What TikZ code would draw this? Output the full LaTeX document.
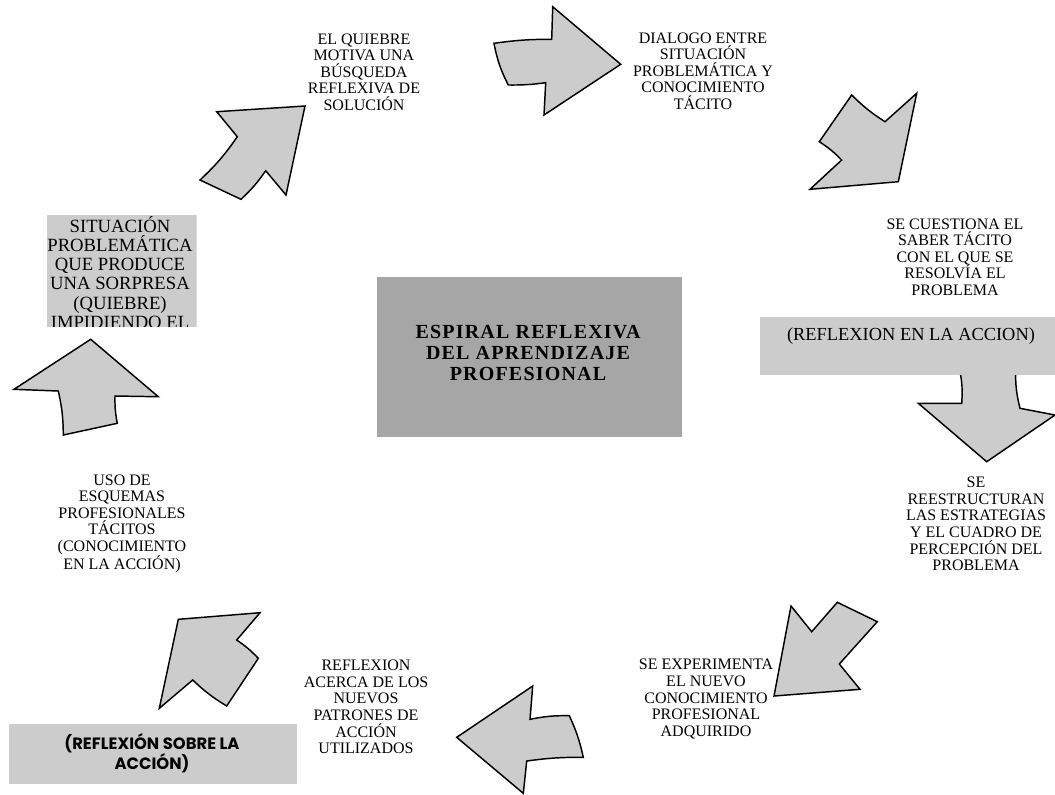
\documentclass[tikz,border=0pt]{standalone}
\usepackage{fontspec}
\setmainfont{Liberation Serif}
\newfontfamily\titlefont[LetterSpace=6]{Liberation Serif}
\newfontfamily\popfont{Poppins}
\definecolor{lgray}{HTML}{CCCCCC}
\definecolor{dgray}{HTML}{A6A6A6}
\begin{document}
\begin{tikzpicture}[x=0.75pt,y=-0.75pt,
  blockarrow/.style={fill=lgray, draw=black, line width=1.1pt, line join=miter},
  lbl/.style={align=center, inner sep=0pt, font=\fontsize{12}{12.4}\selectfont},
  graybox/.style={fill=lgray, draw=none},
]
\useasboundingbox (0,0) rectangle (1055,794);

% ---- arrows ----
% A1 up-right
\draw[blockarrow] (305,106) -- (286,195) -- (265.7,170.7) to[bend left=6] (241,199.3)
  -- (200,180) to[bend right=6] (237.3,136.7) -- (216.7,111.7) -- cycle;
% A2 right
\draw[blockarrow] (494,43.3) to[bend left=4] (551.7,39.3) -- (552.7,6.7) -- (620.7,64.3)
  -- (544,115) -- (545.7,82.7) to[bend left=4] (508.3,85) to[bend left=8] cycle;
% A3 down-right
\draw[blockarrow] (851.7,95) to[bend right=6] (885,121.7) -- (916.7,93.3) -- (898.3,181.7)
  -- (810,189.3) -- (841.7,160) to[bend right=6] (819.3,141.7) -- cycle;
% A4 down
\draw[blockarrow] (957,360) to[bend left=10] (961.7,403.3) -- (918.3,403.3) -- (986.7,461.7)
  -- (1055,415) -- (1020,408.3) to[bend left=10] (1016.7,360);
% A5 down-left
\draw[blockarrow] (791,606) -- (811.7,631.7) -- (837.3,602.3) -- (877.3,621.7)
  -- (839.3,664) -- (860,689.3) -- (774,696) -- cycle;
% A6 left
\draw[blockarrow] (456.7,737.3) -- (532.7,686) -- (530,719.3) to[bend left=6] (569.3,715.7)
  to[bend left=6] (583.3,757.3) to[bend right=4] (526.7,761) -- (523.3,793.3) -- cycle;
% A7 up-left
\draw[blockarrow] (178.3,619.3) -- (260,612.7) -- (236.7,640) to[bend left=6] (258.3,658.3)
  -- (226.7,706) to[bend left=6] (192.7,680) -- (159.3,708.3) -- cycle;
% A8 up
\draw[blockarrow] (90.7,339.3) -- (158.3,396.7) -- (115,396) to[bend right=6] (117.3,423.3)
  -- (63.3,435) to[bend right=6] (58.3,391) -- (14,389.3) -- cycle;

% ---- boxes ----
\fill[graybox] (760,316.7) rectangle (1055,375);
\node[inner sep=0pt, font=\fontsize{13.8}{14}\selectfont] (rea) at (911,336) {(REFLEXION EN LA ACCION)};

\fill[graybox] (9.3,724) rectangle (297.3,784);
\node[align=center, inner sep=0pt, font=\popfont\bfseries\fontsize{12.3}{15}\selectfont] (rsa) at (152,753) {(REFLEXIÓN SOBRE LA\\ACCIÓN)};

\fill[dgray] (377.3,276.7) rectangle (681.7,436.7);
\node[align=center, inner sep=0pt, font=\titlefont\bfseries\fontsize{15}{15.8}\selectfont] (title) at (528,353) {ESPIRAL REFLEXIVA\\DEL APRENDIZAJE\\PROFESIONAL};

\begin{scope}
\clip (46.7,215) rectangle (196.7,326.7);
\fill[graybox] (46.7,215) rectangle (196.7,326.7);
\node[align=center, inner sep=0pt, font=\fontsize{14}{14.3}\selectfont] (sit) at (120,272.5) {SITUACIÓN\\PROBLEMÁTICA\\QUE PRODUCE\\UNA SORPRESA\\(QUIEBRE)\\IMPIDIENDO EL};
\end{scope}

% ---- labels ----
\node[lbl] (t1) at (364,72) {EL QUIEBRE\\MOTIVA UNA\\BÚSQUEDA\\REFLEXIVA DE\\SOLUCIÓN};
\node[lbl] (t2) at (703,71) {DIALOGO ENTRE\\SITUACIÓN\\PROBLEMÁTICA Y\\CONOCIMIENTO\\TÁCITO};
\node[lbl] (t3) at (955,257) {SE CUESTIONA EL\\SABER TÁCITO\\CON EL QUE SE\\RESOLVÍA EL\\PROBLEMA};
\node[lbl] (t4) at (976,524) {SE\\REESTRUCTURAN\\LAS ESTRATEGIAS\\Y EL CUADRO DE\\PERCEPCIÓN DEL\\PROBLEMA};
\node[lbl] (t5) at (706,699) {SE EXPERIMENTA\\EL NUEVO\\CONOCIMIENTO\\PROFESIONAL\\ADQUIRIDO};
\node[lbl] (t6) at (366,707) {REFLEXION\\ACERCA DE LOS\\NUEVOS\\PATRONES DE\\ACCIÓN\\UTILIZADOS};
\node[lbl] (t7) at (122,524) {USO DE\\ESQUEMAS\\PROFESIONALES\\TÁCITOS\\(CONOCIMIENTO\\EN LA ACCIÓN)};
\end{tikzpicture}
\end{document}
